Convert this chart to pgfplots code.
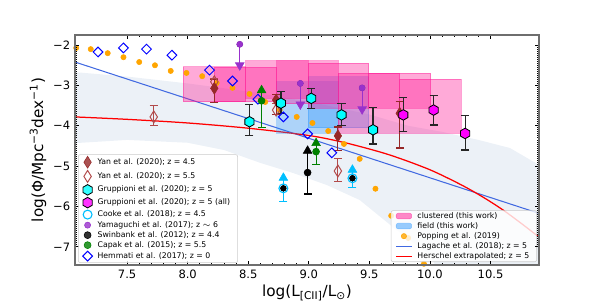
\documentclass[border=0pt]{standalone}
\usepackage{fontspec}
\setmainfont{DejaVu Sans}
\usepackage{pgfplots}
\pgfplotsset{compat=1.18}
\usetikzlibrary{plotmarks}

\definecolor{yanA}{RGB}{150,40,40}
\definecolor{yanB}{RGB}{178,74,74}
\definecolor{popO}{RGB}{255,165,0}
\definecolor{lagB}{RGB}{65,105,225}
\definecolor{cookeC}{RGB}{0,191,255}
\definecolor{yama}{RGB}{153,50,204}
\definecolor{capakG}{RGB}{0,128,0}
\definecolor{bandC}{RGB}{236,241,247}
\definecolor{clus}{RGB}{255,20,147}
\definecolor{fieldC}{RGB}{30,144,255}
\definecolor{legedge}{RGB}{204,204,204}
\definecolor{spine}{RGB}{110,110,110}
\definecolor{hemB}{RGB}{0,0,255}
\definecolor{cyanC}{RGB}{0,255,255}
\definecolor{magC}{RGB}{255,0,255}
\definecolor{redC}{RGB}{255,0,0}

\pgfdeclareplotmark{hex}{%
  \pgfpathmoveto{\pgfpointpolar{90}{\pgfplotmarksize}}%
  \pgfpathlineto{\pgfpointpolar{150}{\pgfplotmarksize}}%
  \pgfpathlineto{\pgfpointpolar{210}{\pgfplotmarksize}}%
  \pgfpathlineto{\pgfpointpolar{270}{\pgfplotmarksize}}%
  \pgfpathlineto{\pgfpointpolar{330}{\pgfplotmarksize}}%
  \pgfpathlineto{\pgfpointpolar{30}{\pgfplotmarksize}}%
  \pgfpathclose\pgfusepathqfillstroke}
\pgfdeclareplotmark{sqdia}{%
  \pgfpathmoveto{\pgfpoint{0pt}{\pgfplotmarksize}}%
  \pgfpathlineto{\pgfpoint{\pgfplotmarksize}{0pt}}%
  \pgfpathlineto{\pgfpoint{0pt}{-\pgfplotmarksize}}%
  \pgfpathlineto{\pgfpoint{-\pgfplotmarksize}{0pt}}%
  \pgfpathclose\pgfusepathqstroke}
\pgfdeclareplotmark{thindia*}{%
  \pgfpathmoveto{\pgfpoint{0pt}{\pgfplotmarksize}}%
  \pgfpathlineto{\pgfpoint{0.62\pgfplotmarksize}{0pt}}%
  \pgfpathlineto{\pgfpoint{0pt}{-\pgfplotmarksize}}%
  \pgfpathlineto{\pgfpoint{-0.62\pgfplotmarksize}{0pt}}%
  \pgfpathclose\pgfusepathqfillstroke}
\pgfdeclareplotmark{thindia}{%
  \pgfpathmoveto{\pgfpoint{0pt}{\pgfplotmarksize}}%
  \pgfpathlineto{\pgfpoint{0.62\pgfplotmarksize}{0pt}}%
  \pgfpathlineto{\pgfpoint{0pt}{-\pgfplotmarksize}}%
  \pgfpathlineto{\pgfpoint{-0.62\pgfplotmarksize}{0pt}}%
  \pgfpathclose\pgfusepathqstroke}

\pgfplotsset{
  base/.style={width=334.08pt, height=165.6pt, scale only axis,
    xmin=7.07, xmax=10.9, ymin=-7.45, ymax=-1.75, at={(0,0)}, anchor=south west},
  leg/.style={legend cell align=left,
    legend image code/.code={\draw[mark repeat=2,mark phase=2,##1] plot coordinates {(0pt,0pt) (5.6pt,0pt) (11.2pt,0pt)};},
    legend style={font=\fontsize{5.6}{6.7}\selectfont, draw=legedge, fill=white, fill opacity=0.8, text opacity=1,
      rounded corners=1.5pt, inner xsep=3.2pt, inner ysep=1.2pt, row sep=1.6pt, column sep=1.5pt,
      nodes={inner xsep=2.2pt, inner ysep=0pt, text height=4.3pt, text depth=1.3pt}}},
  boxleg/.style={legend image code/.code={\draw[##1] (0pt,-1.9pt) rectangle (11.2pt,2.1pt);}},
  ebar/.style={error bars/.cd, y dir=both, y explicit, error bar style={line width=0.8pt, #1},
    error mark options={rotate=90, line width=0.8pt, mark size=2.9pt, #1}},
  ebarlo/.style={error bars/.cd, y dir=minus, y explicit, error bar style={line width=0.8pt, #1},
    error mark options={rotate=90, line width=0.8pt, mark size=2.9pt, #1}},
  ebarhi/.style={error bars/.cd, y dir=plus, y explicit, error mark=none, error bar style={line width=0.8pt, #1}},
  ebarstem/.style={error bars/.cd, y dir=minus, y explicit, error mark=none, error bar style={line width=0.8pt, #1}},
  cbox/.style={forget plot, fill=clus, fill opacity=0.36, draw=clus, draw opacity=0.4, line width=0.8pt},
  fbox/.style={forget plot, fill=fieldC, fill opacity=0.3, draw=fieldC, draw opacity=0.3, line width=0.8pt},
}

\begin{document}
\begin{tikzpicture}
% ---------------- background layer: band, lines, Popping, boxes, legend 2
\begin{axis}[base, hide axis, leg,
  legend style={at={(0.9957,0.013)}, anchor=south east}]
\addplot[forget plot, fill=bandC, draw=none] coordinates {
 (7.07,-2.67) (7.5,-2.78) (8.0,-2.95) (8.5,-3.15) (9.0,-3.40) (9.5,-3.72) (9.82,-4.0)
 (10.1,-4.15) (10.4,-4.35) (10.66,-4.55) (10.9,-4.97)
 (10.95,-4.97) (10.95,-7.8) (10.1,-7.8) (10.0,-7.2) (9.69,-6.5) (9.42,-5.84) (9.15,-5.47)
 (8.87,-5.17) (8.6,-4.92) (8.3,-4.6) (8.0,-4.42) (7.5,-4.35) (7.07,-4.43) (7.0,-4.43) (7.0,-2.67)} -- cycle;
\addplot[forget plot, lagB, line width=0.75pt] coordinates {(7.07,-2.42) (9.0,-4.31) (10.9,-6.17)};
\addplot[forget plot, redC, line width=0.9pt, smooth] coordinates {
 (7.07,-3.78) (7.5,-3.84) (8.0,-3.93) (8.5,-4.06) (9.0,-4.24) (9.3,-4.42) (9.6,-4.66)
 (9.8,-4.86) (10.0,-5.09) (10.15,-5.30) (10.3,-5.53) (10.45,-5.79) (10.6,-6.08) (10.75,-6.41) (10.9,-6.76)};
\addplot[forget plot, only marks, mark=*, mark size=1.9pt, popO, mark options={draw=popO, fill=popO}] coordinates {
 (7.08,-2.07) (7.20,-2.10) (7.34,-2.20) (7.47,-2.30) (7.60,-2.42) (7.73,-2.50) (7.86,-2.64)
 (7.99,-2.69) (8.12,-2.77) (8.24,-2.94) (8.37,-3.06) (8.51,-3.21) (8.64,-3.41) (8.76,-3.61)
 (8.90,-3.78) (9.03,-3.93) (9.16,-4.13) (9.29,-4.45) (9.42,-4.82) (9.55,-5.56) (9.68,-6.23)
 (9.82,-6.78) (9.95,-7.42)};
% field boxes
\addplot[fbox] coordinates {(8.734,-4.19) (9.242,-4.19) (9.242,-2.91) (8.734,-2.91)} -- cycle;
\addplot[fbox] coordinates {(8.995,-4.05) (9.495,-4.05) (9.495,-2.78) (8.995,-2.78)} -- cycle;
% clustered boxes
\addplot[cbox] coordinates {(7.964,-3.40) (8.481,-3.40) (8.481,-2.54) (7.964,-2.54)} -- cycle;
\addplot[cbox] coordinates {(8.220,-3.40) (8.734,-3.40) (8.734,-2.55) (8.220,-2.55)} -- cycle;
\addplot[cbox] coordinates {(8.481,-3.32) (8.995,-3.32) (8.995,-2.39) (8.481,-2.39)} -- cycle;
\addplot[cbox] coordinates {(8.734,-3.45) (9.242,-3.45) (9.242,-2.39) (8.734,-2.39)} -- cycle;
\addplot[cbox] coordinates {(8.995,-3.57) (9.495,-3.57) (9.495,-2.45) (8.995,-2.45)} -- cycle;
\addplot[cbox] coordinates {(9.242,-4.19) (9.751,-4.19) (9.751,-2.70) (9.242,-2.70)} -- cycle;
\addplot[cbox] coordinates {(9.495,-3.57) (10.006,-3.57) (10.006,-2.70) (9.495,-2.70)} -- cycle;
\addplot[cbox] coordinates {(9.751,-4.19) (10.259,-4.19) (10.259,-2.85) (9.751,-2.85)} -- cycle;
% legend 2
\addlegendimage{boxleg, fill=clus, fill opacity=0.5, draw=clus, draw opacity=0.5}
\addlegendentry{clustered (this work)}
\addlegendimage{boxleg, fill=fieldC, fill opacity=0.45, draw=fieldC, draw opacity=0.4}
\addlegendentry{field (this work)}
\addlegendimage{only marks, mark=*, mark size=1.9pt, popO, mark options={fill=popO, draw=popO}}
\addlegendentry{Popping et al. (2019)}
\addlegendimage{lagB, line width=0.75pt}
\addlegendentry{Lagache et al. (2018); z = 5}
\addlegendimage{redC, line width=0.9pt}
\addlegendentry{Herschel extrapolated; z = 5}
\end{axis}

% ---------------- foreground: data points, axes, legend 1
\begin{axis}[base, leg,
  legend style={at={(0.0065,0.009)}, anchor=south west},
  axis line style={spine, line width=1.1pt},
  tick align=inside, major tick length=2.9pt, minor tick length=1.5pt,
  tick style={black, line width=0.6pt},
  xtick={7.5,8,8.5,9,9.5,10,10.5}, xticklabels={7.5,8.0,8.5,9.0,9.5,10.0,10.5},
  ytick={-7,-6,-5,-4,-3,-2}, yticklabels={−7,−6,−5,−4,−3,−2},
  minor x tick num=4, minor y tick num=19,
  ticklabel style={font=\fontsize{8.3}{10}\selectfont},
  label style={font=\fontsize{11}{13}\selectfont},
  xlabel={log(L\textsubscript{[CII]}/L\textsubscript{⊙})},
  ylabel={log(Φ/Mpc\textsuperscript{−3}dex\textsuperscript{−1})},
  xlabel style={yshift=2pt}, ylabel style={yshift=-2pt},
]
% Hemmati
\addplot[forget plot, only marks, mark=sqdia, mark size=3.5pt, hemB, line width=0.7pt] coordinates {
 (7.06,-1.93) (7.26,-2.17) (7.47,-2.07) (7.66,-2.10) (7.87,-2.25) (8.18,-2.62) (8.37,-2.89)
 (8.58,-3.34) (8.79,-3.78) (8.99,-4.20) (9.19,-4.67)};
% Yan z=5.5 (hollow)
\addplot[forget plot, only marks, mark=thindia, mark size=4.3pt, yanB, line width=0.7pt, ebar=yanB] coordinates {
 (7.72,-3.78) += (0,0.29) -= (0,0.22)
 (8.22,-2.91) += (0,0.08) -= (0,0.16)
 (8.73,-3.61) += (0,0.17) -= (0,0.12)
 (9.24,-5.12) += (0,0.30) -= (0,0.27)};
% Yan z=4.5 (filled)
\addplot[forget plot, only marks, mark=thindia*, mark size=4.3pt, yanA, mark options={fill=yanA, draw=yanA}, ebar=yanA] coordinates {
 (8.22,-3.07) += (0,0.22) -= (0,0.35)
 (8.73,-3.36) += (0,0.14) -= (0,0.37)
 (9.24,-4.25) += (0,0.22) -= (0,0.37)
 (9.75,-3.69) += (0,0.30) -= (0,0.86)};
% Capak (lower limits)
\addplot[forget plot, only marks, mark=none, ebarlo=capakG] coordinates {(8.61,-3.38) -= (0,0.66) (9.06,-4.64) -= (0,0.31)};
\addplot[forget plot, only marks, mark=none, ebarhi=capakG] coordinates {(8.61,-3.38) += (0,0.25) (9.06,-4.64) += (0,0.21)};
\addplot[forget plot, only marks, mark=triangle*, mark size=3.6pt, capakG] coordinates {(8.61,-3.12) (9.06,-4.43)};
\addplot[forget plot, only marks, mark=*, mark size=2.5pt, capakG] coordinates {(8.61,-3.38) (9.06,-4.64)};
% Swinbank
\addplot[forget plot, only marks, mark=none, ebarlo=black] coordinates {(8.99,-5.16) -= (0,0.53)};
\addplot[forget plot, only marks, mark=none, ebarhi=black] coordinates {(8.99,-5.16) += (0,0.54)};
\addplot[forget plot, only marks, mark=triangle*, mark size=3.6pt, black] coordinates {(8.99,-4.62)};
\addplot[forget plot, only marks, mark=*, mark size=2.5pt, black] coordinates {(8.99,-5.16)};
% Cooke
\addplot[forget plot, only marks, mark=none, ebarlo=cookeC] coordinates {(8.79,-5.55) -= (0,0.33) (9.36,-5.30) -= (0,0.22)};
\addplot[forget plot, only marks, mark=none, ebarhi=cookeC] coordinates {(8.79,-5.55) += (0,0.26) (9.36,-5.30) += (0,0.21)};
\addplot[forget plot, only marks, mark=triangle*, mark size=3.6pt, cookeC] coordinates {(8.79,-5.29) (9.36,-5.09)};
\addplot[forget plot, only marks, mark=o, mark size=3.2pt, cookeC, line width=0.8pt] coordinates {(8.79,-5.55) (9.36,-5.30)};
% Yamaguchi (upper limits)
\addplot[forget plot, only marks, mark=none, ebarstem=yama] coordinates {(8.43,-1.98) -= (0,0.52) (8.93,-2.95) -= (0,0.52) (9.44,-3.06) -= (0,0.53)};
\addplot[forget plot, only marks, mark=triangle*, mark size=3.6pt, yama, mark options={rotate=180}] coordinates {(8.43,-2.50) (8.93,-3.47) (9.44,-3.59)};
\addplot[forget plot, only marks, mark=*, mark size=2.2pt, yama] coordinates {(8.43,-1.98) (8.93,-2.95) (9.44,-3.06)};
% Gruppioni z=5
\addplot[forget plot, only marks, mark=hex, mark size=3.8pt, mark options={fill=cyanC, draw=black, line width=0.6pt}, ebar={black!85}] coordinates {
 (8.51,-3.90) += (0,0.43) -= (0,0.33)
 (8.77,-3.44) += (0,0.28) -= (0,0.25)
 (9.02,-3.32) += (0,0.25) -= (0,0.25)
 (9.27,-3.73) += (0,0.29) -= (0,0.27)
 (9.53,-4.10) += (0,0.55) -= (0,0.35)};
% Gruppioni all
\addplot[forget plot, only marks, mark=hex, mark size=3.8pt, mark options={fill=magC, draw=black, line width=0.6pt}, ebar={black!85}] coordinates {
 (9.78,-3.73) += (0,0.44) -= (0,0.42)
 (10.03,-3.61) += (0,0.35) -= (0,0.37)
 (10.29,-4.19) += (0,0.44) -= (0,0.41)};
% legend 1
\addlegendimage{only marks, mark=thindia*, mark size=4.3pt, yanA, mark options={fill=yanA, draw=yanA}}
\addlegendentry{Yan et al. (2020); z = 4.5}
\addlegendimage{only marks, mark=thindia, mark size=4.3pt, yanB, line width=0.7pt}
\addlegendentry{Yan et al. (2020); z = 5.5}
\addlegendimage{only marks, mark=hex, mark size=3.8pt, mark options={fill=cyanC, draw=black, line width=0.6pt}}
\addlegendentry{Gruppioni et al. (2020); z = 5}
\addlegendimage{only marks, mark=hex, mark size=3.8pt, mark options={fill=magC, draw=black, line width=0.6pt}}
\addlegendentry{Gruppioni et al. (2020); z = 5 (all)}
\addlegendimage{only marks, mark=o, mark size=3.2pt, cookeC, line width=0.8pt}
\addlegendentry{Cooke et al. (2018); z = 4.5}
\addlegendimage{only marks, mark=*, mark size=2.2pt, yama}
\addlegendentry{Yamaguchi et al. (2017); z $\sim$ 6}
\addlegendimage{only marks, mark=*, mark size=2.5pt, black}
\addlegendentry{Swinbank et al. (2012); z = 4.4}
\addlegendimage{only marks, mark=*, mark size=2.5pt, capakG}
\addlegendentry{Capak et al. (2015); z = 5.5}
\addlegendimage{only marks, mark=sqdia, mark size=3.5pt, hemB, line width=0.7pt}
\addlegendentry{Hemmati et al. (2017); z = 0}
\end{axis}
\path (-54pt,-25.2pt) rectangle (378pt,190.8pt);
\end{tikzpicture}
\end{document}
